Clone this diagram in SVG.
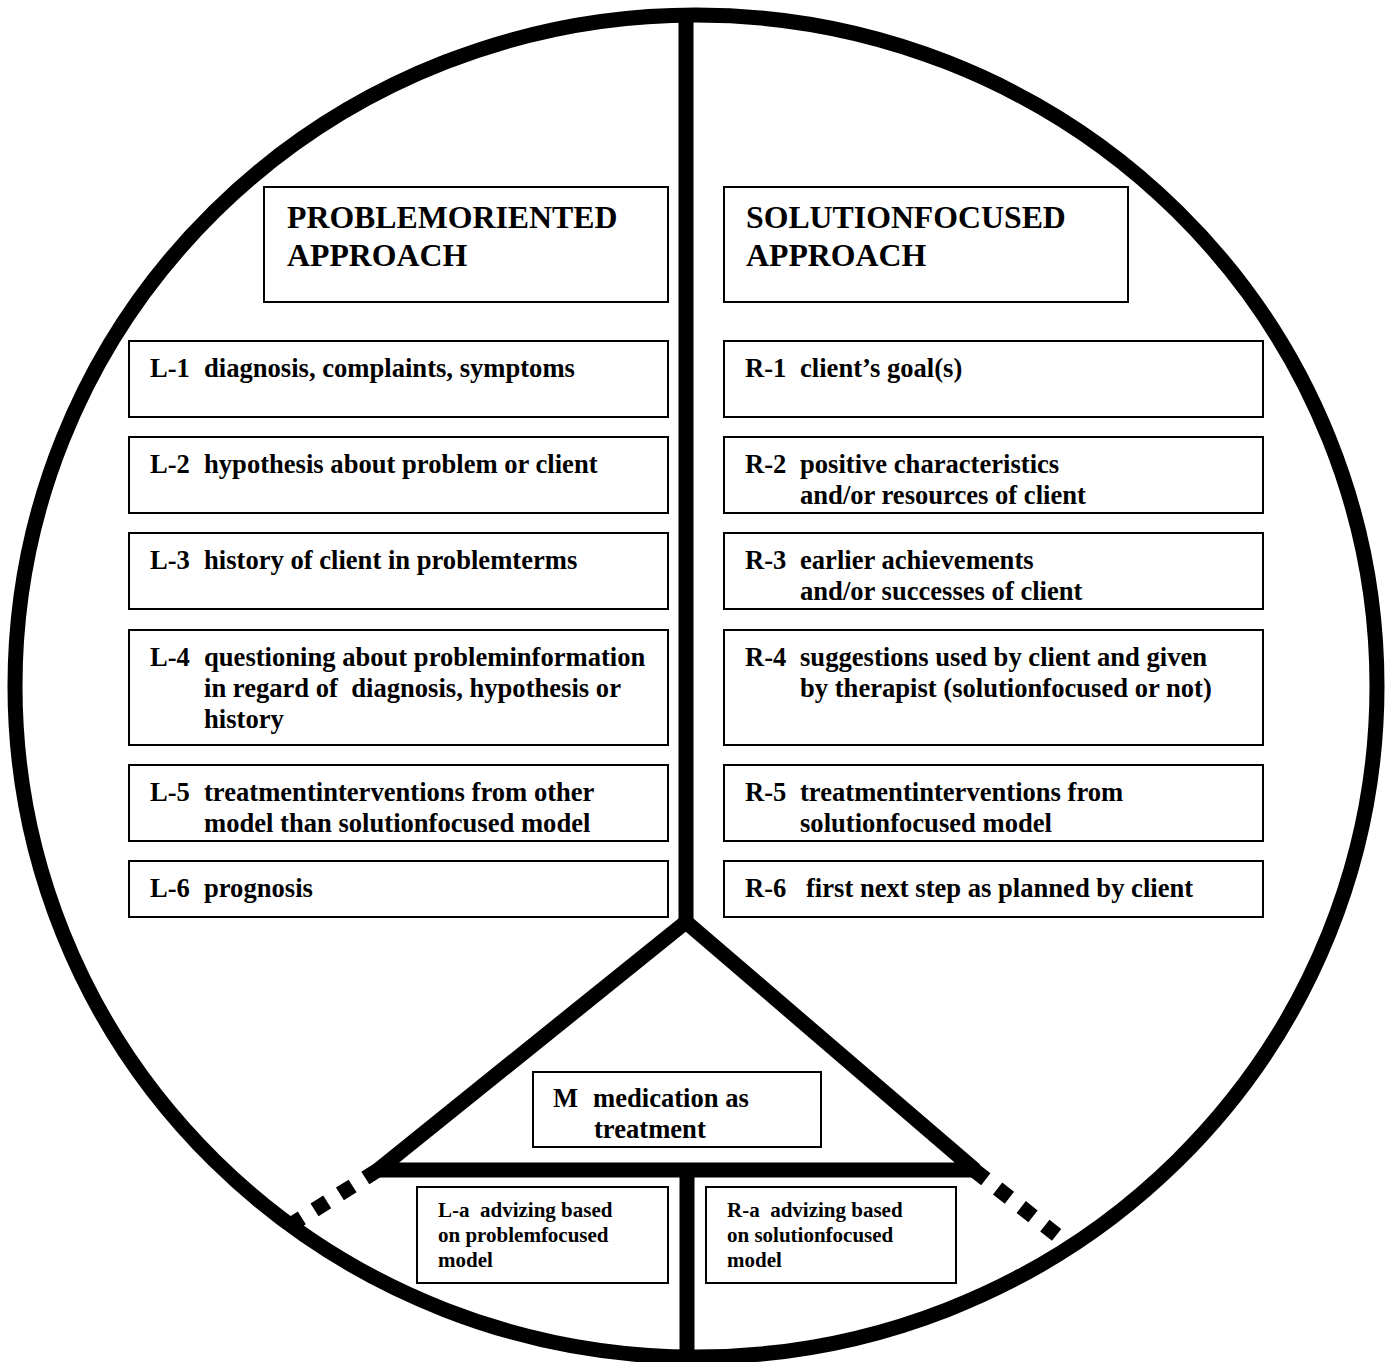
<svg xmlns="http://www.w3.org/2000/svg" width="1394" height="1362" viewBox="0 0 1394 1362">
<style>
.bx{fill:#fff;stroke:#000;stroke-width:2}
.t{font-family:"Liberation Serif","Times New Roman",serif;font-weight:bold;font-size:26.6px;fill:#000}
.h{font-size:31.8px}
.s{font-size:21px}
.thick{fill:none;stroke:#000;stroke-width:15}
.dot{fill:none;stroke:#000;stroke-width:15;stroke-dasharray:15 15}
</style>
<rect width="1394" height="1362" fill="#fff"/>
<g id="connectors">
<ellipse class="thick" cx="696" cy="686" rx="681" ry="671"/>
<line class="thick" x1="686" y1="10" x2="686" y2="923"/>
<path class="thick" d="M686,922 L378,1170 L975,1170 Z" stroke-linejoin="bevel"/>
<line class="thick" x1="687" y1="1170" x2="687" y2="1370"/>
<line class="dot" x1="378" y1="1170" x2="289" y2="1226"/>
<line class="dot" x1="974" y1="1170" x2="1062" y2="1239"/>
</g>
<g id="hdr-left"><rect class="bx" x="264" y="187" width="404" height="115"/>
<text class="t h" x="287" y="228">PROBLEMORIENTED</text><text class="t h" x="287" y="266">APPROACH</text></g>
<g id="hdr-right"><rect class="bx" x="724" y="187" width="404" height="115"/>
<text class="t h" x="746" y="228">SOLUTIONFOCUSED</text><text class="t h" x="746" y="266">APPROACH</text></g>
<g id="L1"><rect class="bx" x="129" y="341" width="539" height="76"/>
<text class="t" x="150" y="377">L-1</text><text class="t" x="204" y="377">diagnosis, complaints, symptoms</text></g>
<g id="L2"><rect class="bx" x="129" y="437" width="539" height="76"/>
<text class="t" x="150" y="473">L-2</text><text class="t" x="204" y="473">hypothesis about problem or client</text></g>
<g id="L3"><rect class="bx" x="129" y="533" width="539" height="76"/>
<text class="t" x="150" y="569">L-3</text><text class="t" x="204" y="569">history of client in problemterms</text></g>
<g id="L4"><rect class="bx" x="129" y="630" width="539" height="115"/>
<text class="t" x="150" y="666">L-4</text><text class="t" x="204" y="666">questioning about probleminformation</text>
<text class="t" x="204" y="697" xml:space="preserve">in regard of  diagnosis, hypothesis or</text>
<text class="t" x="204" y="728">history</text></g>
<g id="L5"><rect class="bx" x="129" y="765" width="539" height="76"/>
<text class="t" x="150" y="801">L-5</text><text class="t" x="204" y="801">treatmentinterventions from other</text>
<text class="t" x="204" y="832">model than solutionfocused model</text></g>
<g id="L6"><rect class="bx" x="129" y="861" width="539" height="56"/>
<text class="t" x="150" y="897">L-6</text><text class="t" x="204" y="897">prognosis</text></g>
<g id="R1"><rect class="bx" x="724" y="341" width="539" height="76"/>
<text class="t" x="745" y="377">R-1</text><text class="t" x="800" y="377">client’s goal(s)</text></g>
<g id="R2"><rect class="bx" x="724" y="437" width="539" height="76"/>
<text class="t" x="745" y="473">R-2</text><text class="t" x="800" y="473">positive characteristics</text>
<text class="t" x="800" y="504">and/or resources of client</text></g>
<g id="R3"><rect class="bx" x="724" y="533" width="539" height="76"/>
<text class="t" x="745" y="569">R-3</text><text class="t" x="800" y="569">earlier achievements</text>
<text class="t" x="800" y="600">and/or successes of client</text></g>
<g id="R4"><rect class="bx" x="724" y="630" width="539" height="115"/>
<text class="t" x="745" y="666">R-4</text><text class="t" x="800" y="666">suggestions used by client and given</text>
<text class="t" x="800" y="697">by therapist (solutionfocused or not)</text></g>
<g id="R5"><rect class="bx" x="724" y="765" width="539" height="76"/>
<text class="t" x="745" y="801">R-5</text><text class="t" x="800" y="801">treatmentinterventions from</text>
<text class="t" x="800" y="832">solutionfocused model</text></g>
<g id="R6"><rect class="bx" x="724" y="861" width="539" height="56"/>
<text class="t" x="745" y="897">R-6</text><text class="t" x="806" y="897">first next step as planned by client</text></g>
<g id="M"><rect class="bx" x="533" y="1072" width="288" height="75"/>
<text class="t" x="553" y="1107">M</text><text class="t" x="593" y="1107">medication as</text>
<text class="t" x="594" y="1138">treatment</text></g>
<g id="La"><rect class="bx" x="417" y="1187" width="251" height="96"/>
<text class="t s" x="438" y="1217" xml:space="preserve">L-a  advizing based</text>
<text class="t s" x="438" y="1242">on problemfocused</text>
<text class="t s" x="438" y="1267">model</text></g>
<g id="Ra"><rect class="bx" x="706" y="1187" width="250" height="96"/>
<text class="t s" x="727" y="1217" xml:space="preserve">R-a  advizing based</text>
<text class="t s" x="727" y="1242">on solutionfocused</text>
<text class="t s" x="727" y="1267">model</text></g>
</svg>
